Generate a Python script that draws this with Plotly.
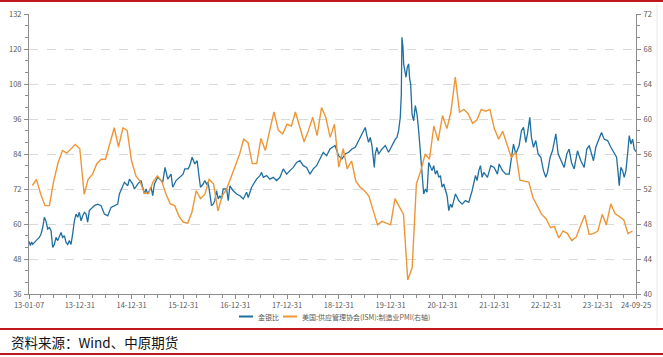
import pandas as pd
import plotly.graph_objects as go

# ---------------- data ----------------
# Gold/silver ratio (left axis); x given as decimal years
ratio_t = [
    2013.016, 2013.043, 2013.068, 2013.088, 2013.152, 2013.216, 2013.249, 2013.281, 2013.313, 2013.345,
    2013.377, 2013.410, 2013.442, 2013.474, 2013.506, 2013.538, 2013.571, 2013.635, 2013.667, 2013.699,
    2013.732, 2013.764, 2013.796, 2013.828, 2013.860, 2013.893, 2013.925, 2013.957, 2013.989, 2014.021,
    2014.054, 2014.086, 2014.118, 2014.150, 2014.182, 2014.215, 2014.279, 2014.343, 2014.408, 2014.472,
    2014.537, 2014.601, 2014.665, 2014.730, 2014.762, 2014.826, 2014.859, 2014.923, 2014.955, 2015.020,
    2015.052, 2015.116, 2015.181, 2015.213, 2015.245, 2015.277, 2015.309, 2015.374, 2015.406, 2015.438,
    2015.503, 2015.567, 2015.599, 2015.644, 2015.696, 2015.760, 2015.792, 2015.857, 2015.921,
    2015.992, 2016.025, 2016.089, 2016.121, 2016.166, 2016.218, 2016.263, 2016.302, 2016.327, 2016.379,
    2016.411, 2016.443, 2016.475, 2016.508, 2016.540, 2016.572, 2016.604, 2016.636, 2016.669, 2016.701,
    2016.733, 2016.765, 2016.830, 2016.862, 2016.894, 2016.958, 2017.023, 2017.087, 2017.152, 2017.216,
    2017.248, 2017.313, 2017.345, 2017.409, 2017.474, 2017.506, 2017.538, 2017.602, 2017.667, 2017.731,
    2017.796, 2017.860, 2017.924, 2017.989, 2018.053, 2018.118, 2018.182, 2018.246, 2018.311, 2018.375,
    2018.440, 2018.504, 2018.568, 2018.633, 2018.697, 2018.762, 2018.826, 2018.923,
    2018.993, 2019.057, 2019.122, 2019.186, 2019.250, 2019.315, 2019.379, 2019.444, 2019.508, 2019.540,
    2019.572, 2019.605, 2019.637, 2019.682, 2019.701, 2019.733, 2019.766, 2019.830, 2019.894, 2019.959,
    2020.023, 2020.088, 2020.120, 2020.152, 2020.184, 2020.204, 2020.216, 2020.236, 2020.249, 2020.268,
    2020.294, 2020.319, 2020.345, 2020.365, 2020.384, 2020.410, 2020.442, 2020.474, 2020.506, 2020.538,
    2020.571, 2020.603, 2020.635, 2020.667, 2020.699, 2020.732, 2020.764, 2020.796, 2020.828, 2020.860,
    2020.893, 2020.925, 2020.957, 2020.989, 2021.021, 2021.054, 2021.086, 2021.118, 2021.150, 2021.182,
    2021.247, 2021.311, 2021.376, 2021.440, 2021.504, 2021.569, 2021.633, 2021.665, 2021.698, 2021.730,
    2021.762, 2021.794,
    2021.865, 2021.930, 2021.994, 2022.059, 2022.091, 2022.155, 2022.220, 2022.284, 2022.329, 2022.368,
    2022.413, 2022.477, 2022.522, 2022.561, 2022.606, 2022.638, 2022.683, 2022.715, 2022.754, 2022.799,
    2022.844, 2022.896, 2022.947, 2022.992, 2023.025, 2023.076, 2023.121, 2023.166, 2023.186, 2023.231,
    2023.282, 2023.347, 2023.398, 2023.443, 2023.488, 2023.540, 2023.604, 2023.669, 2023.733, 2023.785,
    2023.830, 2023.862, 2023.913, 2023.958, 2024.023, 2024.068, 2024.119, 2024.184, 2024.248, 2024.313,
    2024.358, 2024.390, 2024.409, 2024.441, 2024.474, 2024.506, 2024.538, 2024.570, 2024.602, 2024.635,
    2024.667, 2024.699, 2024.732,
]
ratio_v = [
    54.0, 52.6, 53.8, 53.0, 54.3, 55.4, 56.6, 58.8, 62.3, 61.0,
    58.3, 58.8, 57.7, 52.0, 53.0, 55.4, 54.3, 57.1, 55.4, 56.0,
    53.7, 53.0, 54.3, 53.0, 56.6, 61.1, 63.4, 62.3, 64.0, 61.1,
    62.8, 64.0, 63.4, 60.6, 64.6, 65.1, 66.3, 66.8, 66.3, 63.4,
    62.8, 65.7, 66.3, 66.8, 70.3, 72.6, 74.3, 73.1, 75.4, 73.7,
    72.0, 73.7, 74.9, 72.6, 70.3, 72.0, 70.3, 72.6, 69.7, 73.7,
    76.0, 74.9, 74.3, 79.4, 75.4, 77.1, 72.6, 74.9, 76.0,
    77.1, 78.9, 78.9, 80.0, 82.9, 80.6, 81.7, 76.0, 72.6, 73.7,
    74.9, 73.7, 74.3, 70.3, 66.3, 66.8, 68.0, 71.4, 68.6, 69.7,
    68.6, 72.0, 72.0, 68.0, 73.1, 71.4, 70.3, 69.7, 68.6, 70.9,
    69.1, 72.6, 73.7, 75.4, 76.6, 77.7, 76.0, 76.6, 75.4, 76.0,
    74.9, 76.0, 78.9, 77.1, 78.3, 79.4, 81.1, 81.7, 80.0, 79.4,
    77.1, 78.9, 80.0, 82.3, 84.6, 83.4, 85.7, 86.9,
    83.4, 82.3, 84.0, 84.6, 85.7, 86.3, 88.6, 90.9, 93.1, 90.3,
    88.0, 89.7, 86.9, 79.4, 84.0, 86.3, 84.0, 85.7, 86.9, 84.6,
    86.9, 89.1, 89.7, 92.0, 96.6, 104.6, 124.0, 120.6, 114.9, 112.6,
    110.3, 113.7, 114.9, 109.7, 108.0, 97.7, 95.4, 100.6, 97.7, 92.0,
    84.0, 76.0, 70.3, 72.0, 70.9, 81.1, 79.4, 78.3, 80.0, 77.1,
    78.3, 76.0, 76.6, 72.6, 73.7, 72.0, 69.7, 64.6, 66.8, 65.7,
    70.3, 68.0, 66.8, 68.0, 67.4, 71.4, 76.6, 74.9, 78.3, 80.0,
    76.0, 77.7,
    76.0, 80.0, 79.4, 77.1, 80.6, 78.3, 77.1, 77.1, 82.9, 87.4,
    84.0, 86.9, 92.0, 93.1, 88.0, 90.9, 96.6, 89.7, 86.3, 88.6,
    84.0, 82.9, 78.3, 76.0, 77.7, 82.9, 85.1, 88.6, 90.9, 84.0,
    81.7, 79.4, 84.0, 85.7, 81.1, 78.9, 85.1, 81.7, 79.4, 85.7,
    86.9, 85.1, 81.7, 86.3, 89.1, 91.4, 89.1, 88.6, 86.3, 84.0,
    82.9, 77.1, 73.1, 79.4, 78.3, 76.0, 78.3, 84.0, 90.3, 87.4,
    89.1, 85.7, 84.8,
]

# ISM manufacturing PMI (right axis), monthly from 2013-01 to 2024-08
pmi_start = "2013-01-31"
pmi_v = [
    52.4, 53.1, 51.4, 50.1, 50.1, 52.9, 55.0, 56.4, 56.1, 56.6, 57.1, 56.6,
    51.4, 53.1, 53.7, 54.9, 55.4, 55.4, 57.1, 59.0, 56.8, 59.0, 58.7, 55.2,
    53.5, 52.9, 51.5, 51.5, 52.8, 53.5, 52.9, 51.4, 50.3, 50.1, 48.9, 48.2,
    48.1, 49.3, 51.8, 50.9, 51.4, 53.1, 52.6, 49.5, 51.2, 52.0, 53.3, 54.7,
    56.0, 57.7, 57.3, 54.9, 54.9, 57.8, 56.4, 58.7, 60.8, 58.7, 58.3, 59.4,
    59.2, 60.8, 59.0, 57.4, 58.7, 60.2, 58.1, 61.3, 60.2, 57.9, 59.4, 54.5,
    56.6, 54.3, 55.2, 52.9, 52.2, 51.8, 51.2, 49.5, 47.9, 48.3, 48.1, 47.9,
    50.9, 50.1, 49.1, 41.6, 43.0, 52.6, 54.1, 56.0, 55.4, 59.2, 57.5, 60.4,
    58.9, 60.8, 64.8, 60.8, 61.1, 60.6, 59.5, 59.9, 61.1, 60.9, 61.1, 58.9,
    57.7, 58.6, 57.1, 55.6, 56.2, 53.0, 52.9, 52.8, 51.0, 50.1, 49.1, 48.6,
    47.6, 47.7, 46.4, 47.2, 46.9, 46.1, 46.5, 47.8, 49.0, 46.8, 46.9, 47.2,
    49.1, 47.9, 50.3, 49.2, 48.8, 48.5, 46.9, 47.2,
]

x_tickvals = ["2013-01-07", "2013-12-31", "2014-12-31", "2015-12-31", "2016-12-31",
              "2017-12-31", "2018-12-31", "2019-12-31", "2020-12-31", "2021-12-31",
              "2022-12-31", "2023-12-31", "2024-09-25"]
x_ticktext = ["13-01-07", "13-12-31", "14-12-31", "15-12-31", "16-12-31", "17-12-31",
              "18-12-31", "19-12-31", "20-12-31", "21-12-31", "22-12-31", "23-12-31", "24-09-25"]

name_ratio = "金银比"
name_pmi = "美国:供应管理协会(ISM):制造业PMI(右轴)"
source_text = "资料来源：Wind、中原期货"


def yr_to_date(t):
    y = int(t)
    s = pd.Timestamp(year=y, month=1, day=1)
    e = pd.Timestamp(year=y + 1, month=1, day=1)
    return s + (e - s) * (t - y)


ratio_x = [yr_to_date(t) for t in ratio_t]
pmi_x = pd.date_range(pmi_start, periods=len(pmi_v), freq="ME")

BLUE = "#1F6F9F"
ORANGE = "#EE9636"
GRAY_TXT = "#595959"
AXIS = "#8c8c8c"
RED = "#C0161C"

W, H = 663, 357
L, R, T, B = 29, 27, 14, 63
PW, PH = W - L - R, H - T - B


def px(x):
    return (x - L) / PW


def py(y):
    return (H - B - y) / PH


fig = go.Figure()
fig.add_trace(go.Scatter(x=ratio_x, y=ratio_v, mode="lines", name=name_ratio,
                         line=dict(color=BLUE, width=1.3), yaxis="y"))
fig.add_trace(go.Scatter(x=pmi_x, y=pmi_v, mode="lines", name=name_pmi,
                         line=dict(color=ORANGE, width=1.4), yaxis="y2"))

minor_x = [d for d in pd.date_range("2013-03-31", "2024-09-25", freq="QE")
           if d.month != 12]

tickfont = dict(family="Noto Sans CJK SC, Noto Sans, sans-serif", size=7.5, color=GRAY_TXT)

fig.update_layout(
    width=W, height=H,
    margin=dict(l=L, r=R, t=T, b=B, autoexpand=False),
    paper_bgcolor="white", plot_bgcolor="white",
    showlegend=False,
    xaxis=dict(type="date", range=["2013-01-07", "2024-09-25"],
               tickmode="array", tickvals=x_tickvals, ticktext=x_ticktext,
               ticks="outside", ticklen=4, tickcolor=AXIS, tickwidth=1,
               showline=True, linecolor=AXIS, linewidth=1, showgrid=False,
               tickfont=tickfont, tickangle=0, automargin=False,
               minor=dict(tickmode="array", tickvals=minor_x, ticks="outside",
                          ticklen=3, tickcolor=AXIS, showgrid=False)),
    yaxis=dict(range=[36, 132], tick0=36, dtick=12, ticks="outside", ticklen=4,
               tickcolor=AXIS, showline=True, linecolor=AXIS, linewidth=1,
               showgrid=True, gridcolor="#d9d9d9", griddash="dash", gridwidth=1,
               zeroline=False, tickfont=tickfont, ticklabelstandoff=1, automargin=False,
               minor=dict(dtick=4, tick0=36, ticks="outside", ticklen=3,
                          tickcolor=AXIS, showgrid=False)),
    yaxis2=dict(range=[40, 72], tick0=40, dtick=4, overlaying="y", side="right",
                ticks="outside", ticklen=4, tickcolor=AXIS, showline=True,
                linecolor=AXIS, linewidth=1, showgrid=False, zeroline=False,
                tickfont=tickfont, ticklabelstandoff=1, automargin=False,
                minor=dict(dtick=4 / 3, tick0=40, ticks="outside", ticklen=3,
                           tickcolor=AXIS, showgrid=False)),
)

shapes = []
# top red rule
shapes.append(dict(type="line", xref="paper", yref="paper", x0=px(0), x1=px(W),
                   y0=py(1), y1=py(1), line=dict(color=RED, width=2)))
# bottom red rules
shapes.append(dict(type="line", xref="paper", yref="paper", x0=px(0), x1=px(W),
                   y0=py(329), y1=py(329), line=dict(color=RED, width=2)))
shapes.append(dict(type="line", xref="paper", yref="paper", x0=px(0), x1=px(W),
                   y0=py(354), y1=py(354), line=dict(color=RED, width=2)))
# faint right frame line
shapes.append(dict(type="line", xref="paper", yref="paper", x0=px(657), x1=px(657),
                   y0=py(4), y1=py(326), line=dict(color="#e8e8e8", width=1)))
# legend swatches
LEG_Y = 316.5
shapes.append(dict(type="line", xref="paper", yref="paper", x0=px(239), x1=px(253),
                   y0=py(LEG_Y), y1=py(LEG_Y), line=dict(color=BLUE, width=2)))
shapes.append(dict(type="line", xref="paper", yref="paper", x0=px(283), x1=px(297),
                   y0=py(LEG_Y), y1=py(LEG_Y), line=dict(color=ORANGE, width=2)))

legfont = dict(family="Noto Sans CJK SC, sans-serif", size=7, color=GRAY_TXT)
annotations = [
    dict(text=name_ratio, xref="paper", yref="paper", x=px(256), y=py(LEG_Y),
         xanchor="left", yanchor="middle", showarrow=False, font=legfont),
    dict(text=name_pmi, xref="paper", yref="paper", x=px(300), y=py(LEG_Y),
         xanchor="left", yanchor="middle", showarrow=False, font=legfont),
    dict(text=source_text, xref="paper", yref="paper", x=px(9), y=py(341.5),
         xanchor="left", yanchor="middle", showarrow=False,
         font=dict(family="Noto Sans CJK SC, sans-serif", size=13.5, color="#111111")),
]
fig.update_layout(shapes=shapes, annotations=annotations)

fig.write_html("out.html", config={"displayModeBar": False},
               post_script="document.body.style.margin='0px';document.body.style.padding='0px';")
